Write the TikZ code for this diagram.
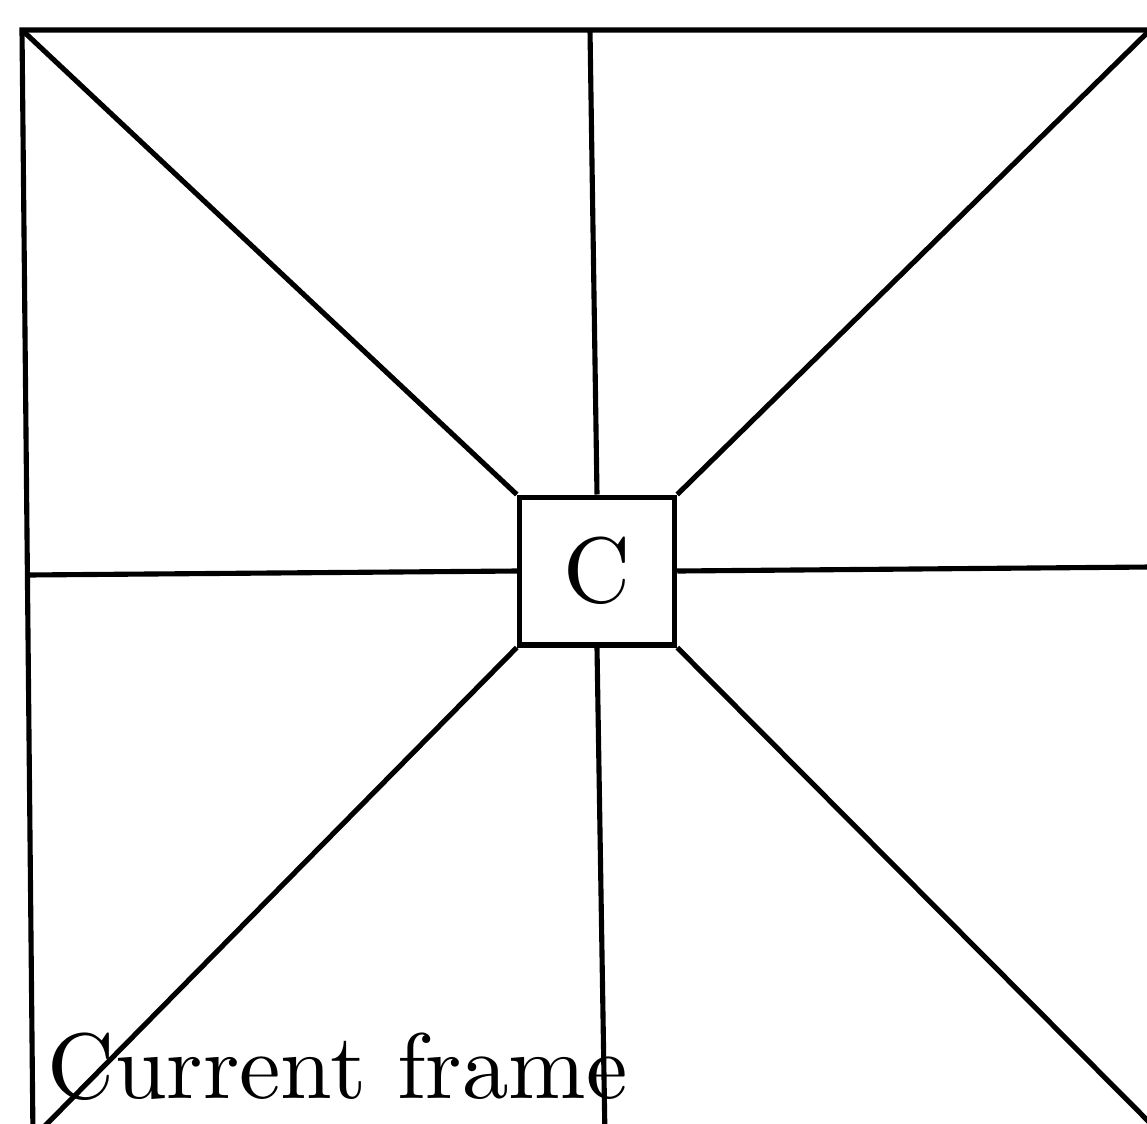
\documentclass[tikz,border=0pt]{standalone}
\usepackage{tikz}
\usetikzlibrary{positioning,calc}
\tikzset{
  cell/.style={draw=black, line width=0.55pt, inner sep=0pt,
    minimum width=16.7pt, minimum height=15.9pt, font=\normalsize},
  spoke/.style={draw=black, line width=0.55pt},
  lbl/.style={inner sep=0pt, font=\normalsize}
}

\begin{document}
\begin{tikzpicture}[x=0.1075pt, y=-0.1075pt]
  \useasboundingbox (0,0) rectangle (1147,1123);
  \clip (0,0) rectangle (1147,1123);

  % outer frame corners and edge midpoints
  \coordinate (tl) at (22,30);
  \coordinate (tr) at (1150,30);
  \coordinate (br) at (1165,1138);
  \coordinate (bl) at (33,1138);
  \coordinate (tm) at (590,30);
  \coordinate (bm) at (605,1138);
  \coordinate (lm) at (27,575);
  \coordinate (rm) at (1150,567);
  \draw[spoke] (tl) -- (tr) -- (br) -- (bl) -- cycle;

  % centre cell
  \node[cell] (c) at (597,571) {C};

  % spokes
  \draw[spoke] (tl) -- (c.north west);
  \draw[spoke] (tr) -- (c.north east);
  \draw[spoke] (bl) -- (c.south west);
  \draw[spoke] (br) -- (c.south east);
  \draw[spoke] (tm) -- (c.north);
  \draw[spoke] (c.south) -- (bm);
  \draw[spoke] (lm) -- (c.west);
  \draw[spoke] (c.east) -- (rm);

  % caption
  \node[lbl, anchor=base west] (cap) at (46,1098) {Current frame};
\end{tikzpicture}
\end{document}
